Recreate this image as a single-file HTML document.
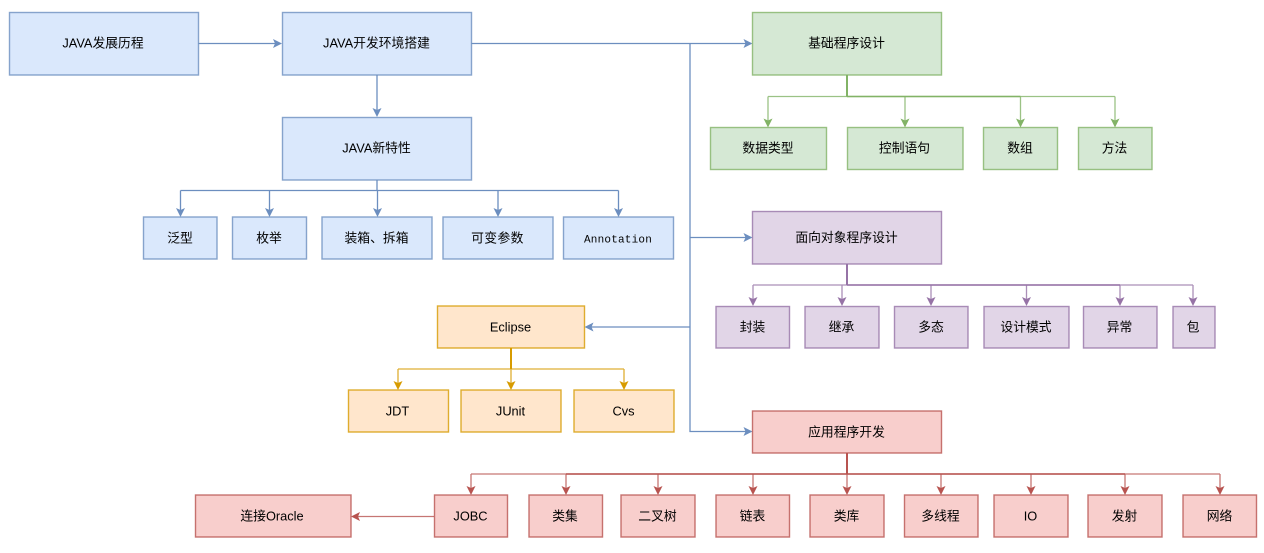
<!DOCTYPE html>
<html><head><meta charset="utf-8"><style>
html,body{margin:0;padding:0;background:#fff;width:1264px;height:553px;overflow:hidden}
svg{display:block}
text{font-family:"Liberation Sans","WenQuanYi Zen Hei","Noto Sans CJK SC",sans-serif;font-size:12.8px;fill:#000;text-anchor:middle}
.b rect{fill:#dae8fc;stroke:#6c8ebf}
.g rect{fill:#d5e8d4;stroke:#82b366}
.p rect{fill:#e1d5e7;stroke:#9673a6}
.o rect{fill:#ffe6cc;stroke:#d79b00}
.r rect{fill:#f8cecc;stroke:#b85450}
.b path.l{stroke:#6c8ebf}.g path.l{stroke:#82b366}.p path.l{stroke:#9673a6}.o path.l{stroke:#d79b00}.r path.l{stroke:#b85450}
path.l{fill:none;stroke-width:1.3}
.b path.a{fill:#6c8ebf}.g path.a{fill:#82b366}.p path.a{fill:#9673a6}.o path.a{fill:#d79b00}.r path.a{fill:#b85450}
rect{stroke-width:1.4;stroke-opacity:.8}
</style></head><body>
<svg width="1264" height="553" viewBox="0 0 1264 553" xmlns="http://www.w3.org/2000/svg">
<g class="b">
<path class="l" d="M198 43.5H277M471 43.5H747M690 43.5V431.5H747M690 237.5H747M690 327H590M377 75V112M377 180V190.5M180.5 190.5H618.5M180.5 190.5V212M269.5 190.5V212M377.5 190.5V212M498 190.5V212M618.5 190.5V212"/>
<path class="a" d="M282 43.5l-9-4.5 2 4.5-2 4.5zM752.5 43.5l-9-4.5 2 4.5-2 4.5zM752.5 237.5l-9-4.5 2 4.5-2 4.5zM752.5 431.5l-9-4.5 2 4.5-2 4.5zM584.5 327l9-4.5-2 4.5 2 4.5zM377 117l-4.5-9 4.5 2 4.5-2zM180.5 217l-4.5-9 4.5 2 4.5-2zM269.5 217l-4.5-9 4.5 2 4.5-2zM377.5 217l-4.5-9 4.5 2 4.5-2zM498 217l-4.5-9 4.5 2 4.5-2zM618.5 217l-4.5-9 4.5 2 4.5-2z"/>
<rect x="9.5" y="12.5" width="189" height="62.5"/><text x="103" y="47.5">JAVA发展历程</text>
<rect x="282.5" y="12.5" width="189" height="62.5"/><text x="376.5" y="47.5">JAVA开发环境搭建</text>
<rect x="282.5" y="117.5" width="189" height="62.5"/><text x="376.5" y="152.5">JAVA新特性</text>
<rect x="143.5" y="217" width="73.5" height="42"/><text x="180" y="242.5">泛型</text>
<rect x="232.5" y="217" width="74" height="42"/><text x="269" y="242.5">枚举</text>
<rect x="322" y="217" width="110" height="42"/><text x="376.5" y="242.5">装箱、拆箱</text>
<rect x="443" y="217" width="110" height="42"/><text x="497.5" y="242.5" style="letter-spacing:.4px">可变参数</text>
<rect x="563.5" y="217" width="110" height="42"/><text x="618" y="242.5" style="font-family:'Liberation Mono',monospace;font-size:11px;letter-spacing:.2px">Annotation</text>
</g>
<g class="g">
<path class="l" d="M847 75V96.5" style="stroke-width:2"/>
<path class="l" d="M768 96.5H1115M768 96.5V122M905 96.5V122M1020.5 96.5V122M1115 96.5V122" style="stroke-opacity:.8"/>
<path class="l" d="M847 96.5H1020.5" style="stroke-width:1.6"/>
<path class="a" d="M768 127.5l-4.5-9 4.5 2 4.5-2zM905 127.5l-4.5-9 4.5 2 4.5-2zM1020.5 127.5l-4.5-9 4.5 2 4.5-2zM1115 127.5l-4.5-9 4.5 2 4.5-2z"/>
<rect x="752.5" y="12.5" width="189" height="62.5"/><text x="846.5" y="47.5">基础程序设计</text>
<rect x="710.5" y="127.5" width="116" height="42"/><text x="768" y="152.5">数据类型</text>
<rect x="847.5" y="127.5" width="115.5" height="42"/><text x="904.5" y="152.5">控制语句</text>
<rect x="983.5" y="127.5" width="74" height="42"/><text x="1020" y="152.5">数组</text>
<rect x="1078.5" y="127.5" width="73.5" height="42"/><text x="1114.5" y="152.5">方法</text>
</g>
<g class="p">
<path class="l" d="M847 264V285" style="stroke-width:2"/>
<path class="l" d="M753 285H1193M753 285V301M842 285V301M931 285V301M1026.5 285V301M1120 285V301M1193 285V301" style="stroke-opacity:.8"/>
<path class="l" d="M847 285H1120" style="stroke-width:1.6"/>
<path class="a" d="M753 306l-4.5-9 4.5 2 4.5-2zM842 306l-4.5-9 4.5 2 4.5-2zM931 306l-4.5-9 4.5 2 4.5-2zM1026.5 306l-4.5-9 4.5 2 4.5-2zM1120 306l-4.5-9 4.5 2 4.5-2zM1193 306l-4.5-9 4.5 2 4.5-2z"/>
<rect x="752.5" y="211.5" width="189" height="52.5"/><text x="846.5" y="242">面向对象程序设计</text>
<rect x="716" y="306.5" width="73.5" height="41.5"/><text x="752.5" y="331.5">封装</text>
<rect x="805" y="306.5" width="74" height="41.5"/><text x="841.5" y="331.5">继承</text>
<rect x="894.5" y="306.5" width="73.5" height="41.5"/><text x="931" y="331.5">多态</text>
<rect x="984" y="306.5" width="85" height="41.5"/><text x="1026" y="331.5">设计模式</text>
<rect x="1083.5" y="306.5" width="73.5" height="41.5"/><text x="1119.5" y="331.5">异常</text>
<rect x="1173" y="306.5" width="42" height="41.5"/><text x="1193" y="331.5">包</text>
</g>
<g class="o">
<path class="l" d="M511 348V369" style="stroke-width:2"/>
<path class="l" d="M398 369H624M398 369V385M511 369V385M624 369V385" style="stroke-opacity:.8"/>
<path class="a" d="M398 390l-4.5-9 4.5 2 4.5-2zM511 390l-4.5-9 4.5 2 4.5-2zM624 390l-4.5-9 4.5 2 4.5-2z"/>
<rect x="437.5" y="306" width="147" height="42"/><text x="510.5" y="331.5">Eclipse</text>
<rect x="348.5" y="390" width="100" height="42"/><text x="397.5" y="415.5">JDT</text>
<rect x="461" y="390" width="100" height="42"/><text x="510.5" y="415.5">JUnit</text>
<rect x="574" y="390" width="100" height="42"/><text x="623.5" y="415.5">Cvs</text>
</g>
<g class="r">
<path class="l" d="M847 453V474" style="stroke-width:2"/>
<path class="l" d="M471 474H1220M471 474V490M566 474V490M658 474V490M753 474V490M847 474V490M941 474V490M1031 474V490M1125 474V490M1220 474V490M434 516.5H356" style="stroke-opacity:.8"/>
<path class="l" d="M566 474H1125" style="stroke-width:1.6"/>
<path class="a" d="M471 495l-4.5-9 4.5 2 4.5-2zM566 495l-4.5-9 4.5 2 4.5-2zM658 495l-4.5-9 4.5 2 4.5-2zM753 495l-4.5-9 4.5 2 4.5-2zM847 495l-4.5-9 4.5 2 4.5-2zM941 495l-4.5-9 4.5 2 4.5-2zM1031 495l-4.5-9 4.5 2 4.5-2zM1125 495l-4.5-9 4.5 2 4.5-2zM1220 495l-4.5-9 4.5 2 4.5-2zM351 516.5l9-4.5-2 4.5 2 4.5z"/>
<rect x="752.5" y="411" width="189" height="42"/><text x="846.5" y="436.5">应用程序开发</text>
<rect x="195.5" y="495" width="155.5" height="42"/><text x="272" y="520.5">连接Oracle</text>
<rect x="434.5" y="495" width="73" height="42"/><text x="470.5" y="520.5">JOBC</text>
<rect x="529" y="495" width="73.5" height="42"/><text x="565" y="520.5">类集</text>
<rect x="621" y="495" width="74" height="42"/><text x="657.5" y="520.5">二叉树</text>
<rect x="716" y="495" width="73.5" height="42"/><text x="752.5" y="520.5">链表</text>
<rect x="810" y="495" width="74" height="42"/><text x="846.5" y="520.5">类库</text>
<rect x="904.5" y="495" width="73.5" height="42"/><text x="940.5" y="520.5">多线程</text>
<rect x="994" y="495" width="74" height="42"/><text x="1030.5" y="520.5">IO</text>
<rect x="1088" y="495" width="74" height="42"/><text x="1124.5" y="520.5">发射</text>
<rect x="1183" y="495" width="73.5" height="42"/><text x="1219.5" y="520.5">网络</text>
</g>
</svg>
</body></html>
